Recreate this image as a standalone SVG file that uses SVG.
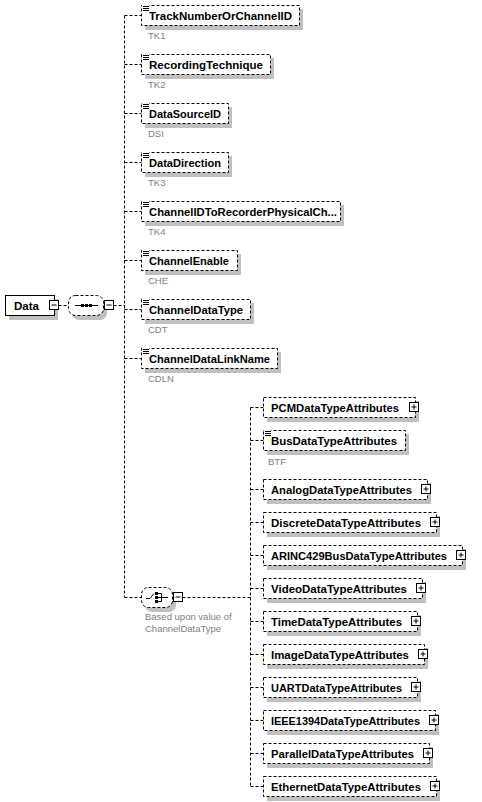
<svg xmlns="http://www.w3.org/2000/svg" width="482" height="802" viewBox="0 0 482 802">
<style>
.bg{fill:#ffffff}
.sh{fill:#c0c0c0;stroke:none}
.box{fill:#ffffff;stroke:#000;stroke-width:1;stroke-dasharray:3 2}
.solid{fill:#ffffff;stroke:#000;stroke-width:1}
.ln{fill:none;stroke:#000;stroke-width:1;stroke-dasharray:3 2}
.pm{fill:#ffffff;stroke:#000;stroke-width:1}
.sym{fill:none;stroke:#000;stroke-width:1}
.t{font-family:"Liberation Sans",Arial,sans-serif;font-weight:bold;font-size:11.5px;fill:#000}
.lbl{font-family:"Liberation Sans",Arial,sans-serif;font-size:9.5px;fill:#808080}
</style>
<defs>
<g id="doc"><rect x="0" y="0" width="7" height="6" fill="#fff"/><path d="M1 1.5H7M1 3.5H7M1 5.5H7" stroke="#000" stroke-width="1"/></g>
<g id="plus"><rect x="0" y="0" width="9" height="9" class="pm"/><path d="M2 4.5H7M4.5 2V7" stroke="#000" stroke-width="1"/></g>
<g id="minus"><rect x="0" y="0" width="9" height="9" class="pm"/><path d="M2 4.5H7" stroke="#000" stroke-width="1"/></g>
</defs>
<rect width="482" height="802" class="bg"/>

<g id="connectors">
<path class="ln" d="M58.5 305.5H68.5M113.5 305.5H124.5"/>
<path class="ln" d="M124.5 15.5V597.5"/>
<path class="ln" d="M124.5 15.5H141.5M124.5 64.5H141.5M124.5 113.5H141.5M124.5 162.5H141.5M124.5 211.5H141.5M124.5 260.5H141.5M124.5 309.5H141.5M124.5 358.5H141.5M124.5 597.5H141.5"/>
<path class="ln" d="M182.5 597.5H250.5M250.5 407.5V786.5"/>
<path class="ln" d="M250.5 407.5H263.5M250.5 440.5H263.5M250.5 489.5H263.5M250.5 522.5H263.5M250.5 555.5H263.5M250.5 588.5H263.5M250.5 621.5H263.5M250.5 654.5H263.5M250.5 687.5H263.5M250.5 720.5H263.5M250.5 753.5H263.5M250.5 786.5H263.5"/>
</g>

<g id="Data">
<rect class="sh" x="9" y="299" width="49" height="21"/>
<rect class="solid" x="5.5" y="295.5" width="49" height="20"/>
<text class="t" x="14" y="310" textLength="25" lengthAdjust="spacingAndGlyphs">Data</text>
<use href="#minus" x="49.5" y="300.5"/>
</g>

<g id="sequence">
<rect class="sh" x="72" y="299" width="35" height="21" rx="7"/>
<rect class="box" x="68.5" y="295.5" width="35" height="20" rx="7"/>
<path class="sym" d="M75 305.5H98"/>
<rect x="81" y="304" width="3" height="3" fill="#000"/>
<rect x="85" y="304" width="3" height="3" fill="#000"/>
<rect x="89" y="304" width="3" height="3" fill="#000"/>
<use href="#minus" x="104.5" y="300.5"/>
</g>

<g id="TrackNumberOrChannelID">
<rect class="sh" x="145" y="9" width="158" height="21"/>
<rect class="box" x="141.5" y="5.5" width="158" height="20"/>
<use href="#doc" x="142" y="5"/>
<text class="t" x="149" y="19.5" textLength="143" lengthAdjust="spacingAndGlyphs">TrackNumberOrChannelID</text>
<text class="lbl" x="148" y="38.5">TK1</text>
</g>

<g id="RecordingTechnique">
<rect class="sh" x="145" y="58" width="129" height="21"/>
<rect class="box" x="141.5" y="54.5" width="129" height="20"/>
<use href="#doc" x="142" y="54"/>
<text class="t" x="149" y="68.5" textLength="114" lengthAdjust="spacingAndGlyphs">RecordingTechnique</text>
<text class="lbl" x="148" y="87.5">TK2</text>
</g>

<g id="DataSourceID">
<rect class="sh" x="145" y="107" width="87" height="21"/>
<rect class="box" x="141.5" y="103.5" width="87" height="20"/>
<use href="#doc" x="142" y="103"/>
<text class="t" x="149" y="117.5" textLength="72" lengthAdjust="spacingAndGlyphs">DataSourceID</text>
<text class="lbl" x="148" y="136.5">DSI</text>
</g>

<g id="DataDirection">
<rect class="sh" x="145" y="156" width="87" height="21"/>
<rect class="box" x="141.5" y="152.5" width="87" height="20"/>
<use href="#doc" x="142" y="152"/>
<text class="t" x="149" y="166.5" textLength="72" lengthAdjust="spacingAndGlyphs">DataDirection</text>
<text class="lbl" x="148" y="185.5">TK3</text>
</g>

<g id="ChannelIDToRecorderPhysicalChannelID">
<rect class="sh" x="145" y="205" width="199" height="21"/>
<rect class="box" x="141.5" y="201.5" width="199" height="20"/>
<use href="#doc" x="142" y="201"/>
<text class="t" x="149" y="215.5" textLength="188" lengthAdjust="spacingAndGlyphs">ChannelIDToRecorderPhysicalCh...</text>
<text class="lbl" x="148" y="234.5">TK4</text>
</g>

<g id="ChannelEnable">
<rect class="sh" x="145" y="254" width="96" height="21"/>
<rect class="box" x="141.5" y="250.5" width="96" height="20"/>
<use href="#doc" x="142" y="250"/>
<text class="t" x="149" y="264.5" textLength="80" lengthAdjust="spacingAndGlyphs">ChannelEnable</text>
<text class="lbl" x="148" y="283.5">CHE</text>
</g>

<g id="ChannelDataType">
<rect class="sh" x="145" y="303" width="109" height="21"/>
<rect class="box" x="141.5" y="299.5" width="109" height="20"/>
<use href="#doc" x="142" y="299"/>
<text class="t" x="149" y="313.5" textLength="94" lengthAdjust="spacingAndGlyphs">ChannelDataType</text>
<text class="lbl" x="148" y="332.5">CDT</text>
</g>

<g id="ChannelDataLinkName">
<rect class="sh" x="145" y="352" width="136" height="21"/>
<rect class="box" x="141.5" y="348.5" width="136" height="20"/>
<use href="#doc" x="142" y="348"/>
<text class="t" x="149" y="362.5" textLength="121" lengthAdjust="spacingAndGlyphs">ChannelDataLinkName</text>
<text class="lbl" x="148" y="381.5">CDLN</text>
</g>

<g id="choice">
<rect class="sh" x="145" y="591" width="31" height="21" rx="7"/>
<rect class="box" x="141.5" y="587.5" width="31" height="20" rx="7"/>
<path class="sym" d="M146 598.5H150L154 593.5"/>
<rect x="155" y="592" width="3" height="3" fill="#000"/>
<rect x="155" y="596" width="3" height="3" fill="#000"/>
<rect x="155" y="600" width="3" height="3" fill="#000"/>
<path class="sym" d="M158 593.5H161.5V601.5H158M158 597.5H168"/>
<use href="#minus" x="173.5" y="592.5"/>
<text class="lbl" x="145" y="620">Based upon value of</text>
<text class="lbl" x="145" y="632">ChannelDataType</text>
</g>

<g id="PCMDataTypeAttributes">
<rect class="sh" x="267" y="401" width="152" height="21"/>
<rect class="box" x="263.5" y="397.5" width="152" height="20"/>
<text class="t" x="271" y="411.5" textLength="128" lengthAdjust="spacingAndGlyphs">PCMDataTypeAttributes</text>
<use href="#plus" x="409.5" y="402.5"/>
</g>

<g id="BusDataTypeAttributes">
<rect class="sh" x="267" y="434" width="142" height="21"/>
<rect class="box" x="263.5" y="430.5" width="142" height="20"/>
<use href="#doc" x="264" y="430"/>
<text class="t" x="271" y="444.5" textLength="126" lengthAdjust="spacingAndGlyphs">BusDataTypeAttributes</text>
<text class="lbl" x="268" y="465">BTF</text>
</g>

<g id="AnalogDataTypeAttributes">
<rect class="sh" x="267" y="483" width="164" height="21"/>
<rect class="box" x="263.5" y="479.5" width="164" height="20"/>
<text class="t" x="271" y="493.5" textLength="141" lengthAdjust="spacingAndGlyphs">AnalogDataTypeAttributes</text>
<use href="#plus" x="421.5" y="484.5"/>
</g>

<g id="DiscreteDataTypeAttributes">
<rect class="sh" x="267" y="516" width="173" height="21"/>
<rect class="box" x="263.5" y="512.5" width="173" height="20"/>
<text class="t" x="271" y="526.5" textLength="150" lengthAdjust="spacingAndGlyphs">DiscreteDataTypeAttributes</text>
<use href="#plus" x="430.5" y="517.5"/>
</g>

<g id="ARINC429BusDataTypeAttributes">
<rect class="sh" x="267" y="549" width="199" height="21"/>
<rect class="box" x="263.5" y="545.5" width="199" height="20"/>
<text class="t" x="271" y="559.5" textLength="176" lengthAdjust="spacingAndGlyphs">ARINC429BusDataTypeAttributes</text>
<use href="#plus" x="456.5" y="550.5"/>
</g>

<g id="VideoDataTypeAttributes">
<rect class="sh" x="267" y="582" width="159" height="21"/>
<rect class="box" x="263.5" y="578.5" width="159" height="20"/>
<text class="t" x="271" y="592.5" textLength="136" lengthAdjust="spacingAndGlyphs">VideoDataTypeAttributes</text>
<use href="#plus" x="416.5" y="583.5"/>
</g>

<g id="TimeDataTypeAttributes">
<rect class="sh" x="267" y="615" width="154" height="21"/>
<rect class="box" x="263.5" y="611.5" width="154" height="20"/>
<text class="t" x="271" y="625.5" textLength="131" lengthAdjust="spacingAndGlyphs">TimeDataTypeAttributes</text>
<use href="#plus" x="411.5" y="616.5"/>
</g>

<g id="ImageDataTypeAttributes">
<rect class="sh" x="267" y="648" width="161" height="21"/>
<rect class="box" x="263.5" y="644.5" width="161" height="20"/>
<text class="t" x="271" y="658.5" textLength="138" lengthAdjust="spacingAndGlyphs">ImageDataTypeAttributes</text>
<use href="#plus" x="418.5" y="649.5"/>
</g>

<g id="UARTDataTypeAttributes">
<rect class="sh" x="267" y="681" width="154" height="21"/>
<rect class="box" x="263.5" y="677.5" width="154" height="20"/>
<text class="t" x="271" y="691.5" textLength="131" lengthAdjust="spacingAndGlyphs">UARTDataTypeAttributes</text>
<use href="#plus" x="411.5" y="682.5"/>
</g>

<g id="IEEE1394DataTypeAttributes">
<rect class="sh" x="267" y="714" width="172" height="21"/>
<rect class="box" x="263.5" y="710.5" width="172" height="20"/>
<text class="t" x="271" y="724.5" textLength="149" lengthAdjust="spacingAndGlyphs">IEEE1394DataTypeAttributes</text>
<use href="#plus" x="429.5" y="715.5"/>
</g>

<g id="ParallelDataTypeAttributes">
<rect class="sh" x="267" y="747" width="166" height="21"/>
<rect class="box" x="263.5" y="743.5" width="166" height="20"/>
<text class="t" x="271" y="757.5" textLength="143" lengthAdjust="spacingAndGlyphs">ParallelDataTypeAttributes</text>
<use href="#plus" x="423.5" y="748.5"/>
</g>

<g id="EthernetDataTypeAttributes">
<rect class="sh" x="267" y="780" width="173" height="21"/>
<rect class="box" x="263.5" y="776.5" width="173" height="20"/>
<text class="t" x="271" y="790.5" textLength="150" lengthAdjust="spacingAndGlyphs">EthernetDataTypeAttributes</text>
<use href="#plus" x="430.5" y="781.5"/>
</g>
</svg>
